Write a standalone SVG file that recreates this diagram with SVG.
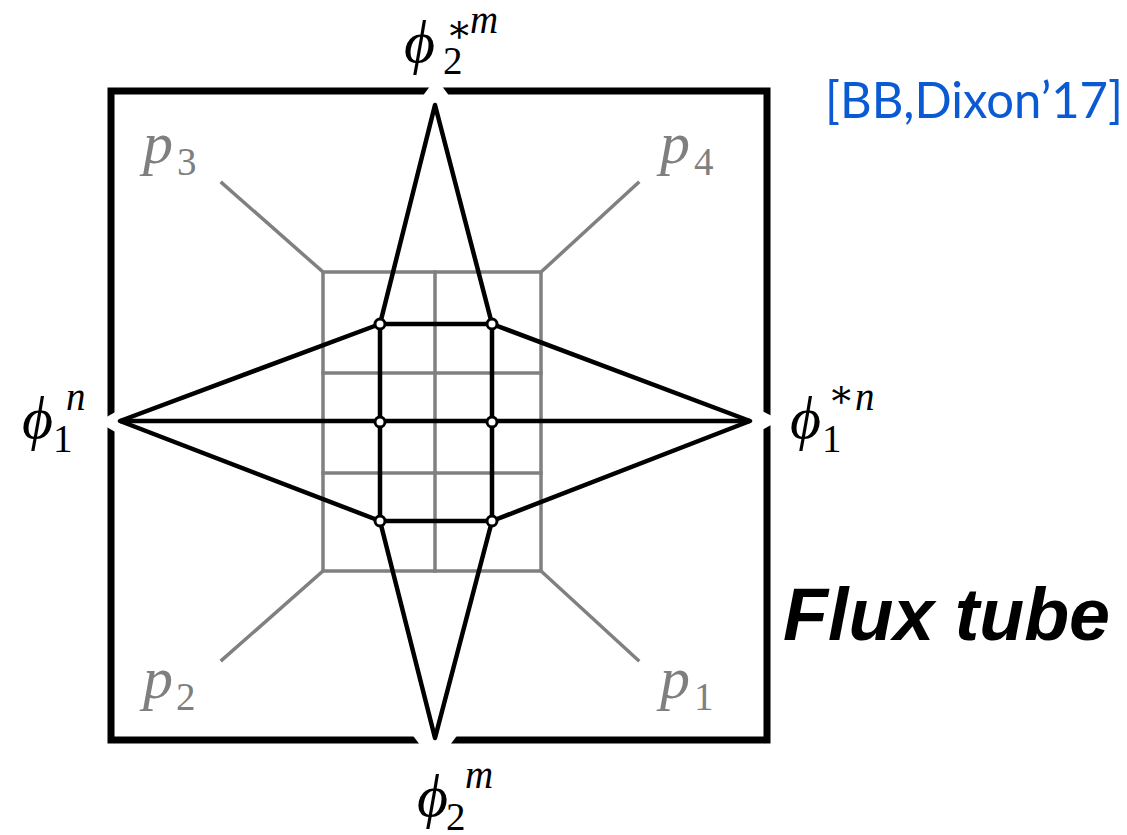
<svg xmlns="http://www.w3.org/2000/svg" width="1127" height="835" viewBox="0 0 1127 835">
<style>
.gray{stroke:#808080;stroke-width:3.5;fill:none;stroke-linecap:square}
.blk{stroke:#000;stroke-width:4.5;fill:none;stroke-linejoin:round}
.node{fill:#fff;stroke:#000;stroke-width:3}
.m{font-family:"Liberation Serif","DejaVu Serif",serif;fill:#000;font-size:60px}
.g{fill:#7f7f7f}
.it{font-style:italic}
.sm{font-size:39px;font-style:normal}
.smi{font-size:39px;font-style:italic}
</style>
<rect width="1127" height="835" fill="#fff"/>
<g id="frame">
<rect x="111" y="91" width="656" height="649" fill="none" stroke="#000" stroke-width="7"/>
<polygon points="422,97 450,97 436,78" fill="#fff"/>
<polygon points="411,733 459,733 435,765" fill="#fff"/>
<polygon points="117,411 117,433 98,422" fill="#fff"/>
<polygon points="760,410 760,431 780,420" fill="#fff"/>
</g>
<g id="grid">
<rect x="323" y="272" width="218" height="299" class="gray"/>
<line x1="435" y1="272" x2="435" y2="571" class="gray"/>
<line x1="323" y1="373" x2="541" y2="373" class="gray"/>
<line x1="323" y1="473" x2="541" y2="473" class="gray"/>
<line x1="323" y1="272" x2="222" y2="183" class="gray"/>
<line x1="541" y1="272" x2="638" y2="183" class="gray"/>
<line x1="323" y1="571" x2="222" y2="660" class="gray"/>
<line x1="541" y1="571" x2="638" y2="660" class="gray"/>
</g>
<g id="connectors">
<polygon points="380,324 492,324 492,521 380,521" class="blk"/>
<line x1="120" y1="421" x2="750" y2="421" class="blk"/>
<polyline points="380,324 120,421 380,521" class="blk"/>
<polyline points="492,324 750,421 492,521" class="blk"/>
<polyline points="380,324 435,105 492,324" class="blk"/>
<polyline points="380,521 435,738 492,521" class="blk"/>
</g>
<g id="nodes">
<circle id="n1" cx="380" cy="324" r="5" class="node"/>
<circle id="n2" cx="492" cy="324" r="5" class="node"/>
<circle id="n3" cx="380" cy="422" r="5" class="node"/>
<circle id="n4" cx="492" cy="422" r="5" class="node"/>
<circle id="n5" cx="380" cy="521" r="5" class="node"/>
<circle id="n6" cx="492" cy="521" r="5" class="node"/>
</g>
<g id="label-phi2-star-m">
<text class="m it" x="404" y="62">ϕ<tspan class="sm" x="443" y="74">2</tspan><tspan class="sm" x="446" y="42">∗</tspan><tspan class="smi" x="470" y="33">m</tspan></text>
</g>
<g id="label-phi1-n">
<text class="m it" x="22" y="438">ϕ<tspan class="sm" x="53" y="452">1</tspan><tspan class="smi" x="66" y="410">n</tspan></text>
</g>
<g id="label-phi1-star-n">
<text class="m it" x="790" y="438">ϕ<tspan class="sm" x="822" y="452">1</tspan><tspan class="sm" x="828" y="407">∗</tspan><tspan class="smi" x="855" y="410">n</tspan></text>
</g>
<g id="label-phi2-m">
<text class="m it" x="417" y="816">ϕ<tspan class="sm" x="446" y="830">2</tspan><tspan class="smi" x="465" y="788">m</tspan></text>
</g>
<g id="label-p3">
<text class="m g it" x="143" y="163">p<tspan class="sm" x="177" y="175">3</tspan></text>
</g>
<g id="label-p4">
<text class="m g it" x="660" y="163">p<tspan class="sm" x="694" y="175">4</tspan></text>
</g>
<g id="label-p2">
<text class="m g it" x="143" y="698">p<tspan class="sm" x="176" y="710">2</tspan></text>
</g>
<g id="label-p1">
<text class="m g it" x="660" y="698">p<tspan class="sm" x="694" y="710">1</tspan></text>
</g>
<g id="citation">
<text x="825" y="118" font-family="Lato,'Open Sans',sans-serif" font-size="50" fill="#0a5ad4" textLength="298" lengthAdjust="spacingAndGlyphs">[BB,Dixon’17]</text>
</g>
<g id="title">
<text x="783" y="640" font-family="'Liberation Sans',Arial,sans-serif" font-size="74" font-weight="bold" font-style="italic" fill="#000" textLength="327" lengthAdjust="spacingAndGlyphs">Flux tube</text>
</g>
</svg>
